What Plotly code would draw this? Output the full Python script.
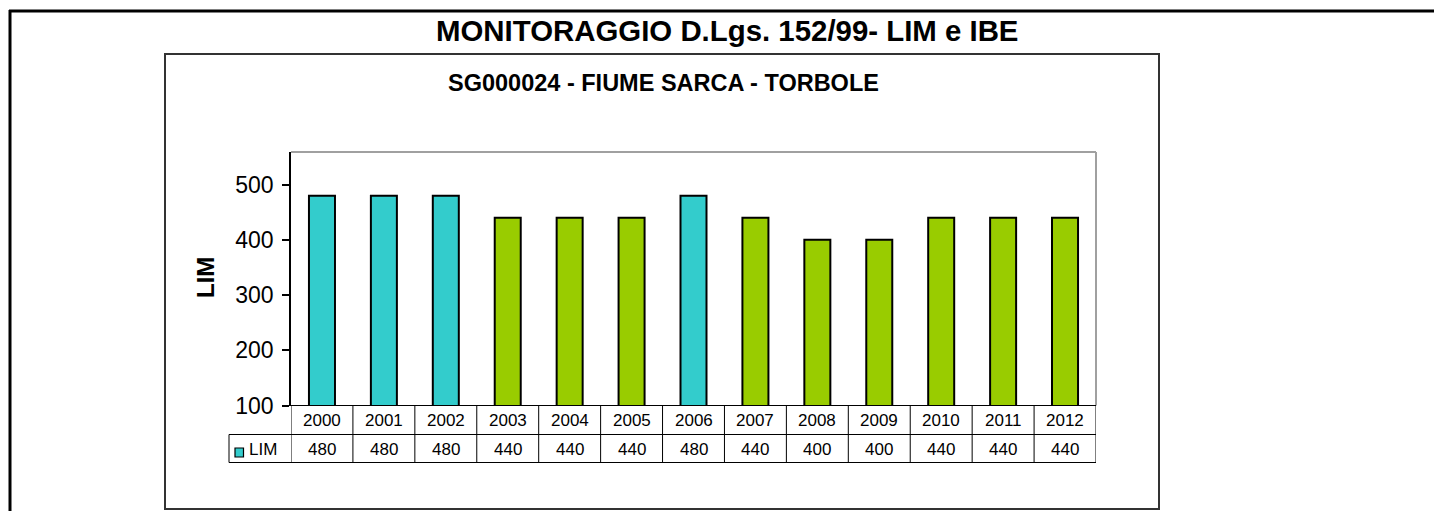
import plotly.graph_objects as go

# LIM scores per monitoring year
years = ["2000", "2001", "2002", "2003", "2004", "2005", "2006",
         "2007", "2008", "2009", "2010", "2011", "2012"]
lim = [480, 480, 480, 440, 440, 440, 480, 440, 400, 400, 440, 440, 440]
y_ticks = [100, 200, 300, 400, 500]

TEAL = "#33CCCC"
GREEN = "#99CC00"
# LIM level 1 (480-560) in teal, level 2 in green
colors = [TEAL if v >= 480 else GREEN for v in lim]

W, H = 1434, 511
FONT = "Liberation Sans, Arial, sans-serif"
TABLE_SIZE = 17


def px(x):
    return x / W


def py(y):
    return 1 - y / H


# plot area in pixels
X0, X1 = 291, 1096
Y0, Y1 = 152, 405.5
ROW1, ROW2 = 434.5, 462.5
LEG_X = 229

fig = go.Figure()
fig.add_trace(go.Bar(
    x=years, y=lim,
    marker=dict(color=colors, line=dict(color="black", width=2)),
    width=0.42,
    showlegend=False,
    hoverinfo="x+y",
))

shapes = []
# outer frame (left and top edges)
shapes.append(dict(type="line", xref="paper", yref="paper",
                   x0=px(10), x1=px(10), y0=py(10), y1=py(H + 5),
                   line=dict(color="black", width=3)))
shapes.append(dict(type="line", xref="paper", yref="paper",
                   x0=px(9), x1=px(W + 5), y0=py(11), y1=py(11),
                   line=dict(color="black", width=3)))
# chart box
shapes.append(dict(type="rect", xref="paper", yref="paper",
                   x0=px(165), x1=px(1159), y0=py(54), y1=py(509),
                   line=dict(color="#333333", width=2)))
# plot area border (top and right)
shapes.append(dict(type="line", xref="paper", yref="paper",
                   x0=px(X0), x1=px(X1), y0=py(Y0), y1=py(Y0),
                   line=dict(color="#A0A0A0", width=2)))
shapes.append(dict(type="line", xref="paper", yref="paper",
                   x0=px(X1), x1=px(X1), y0=py(Y0), y1=py(Y1),
                   line=dict(color="#A0A0A0", width=2)))

# data table grid
tl = dict(color="black", width=1)
shapes.append(dict(type="line", xref="paper", yref="paper",
                   x0=px(X0), x1=px(X1), y0=py(Y1), y1=py(Y1), line=tl))
for yy in (ROW1, ROW2):
    shapes.append(dict(type="line", xref="paper", yref="paper",
                       x0=px(LEG_X), x1=px(X1), y0=py(yy), y1=py(yy), line=tl))
shapes.append(dict(type="line", xref="paper", yref="paper",
                   x0=px(LEG_X), x1=px(LEG_X), y0=py(ROW1), y1=py(ROW2), line=tl))
for i in range(len(years) + 1):
    shapes.append(dict(type="line", xref="x", yref="paper",
                       x0=i - 0.5, x1=i - 0.5, y0=py(Y1), y1=py(ROW2), line=tl))
# legend key
shapes.append(dict(type="rect", xref="paper", yref="paper",
                   x0=px(235), x1=px(243.5), y0=py(448), y1=py(457),
                   fillcolor=TEAL, line=dict(color="black", width=1.2)))

annotations = []
for i, (yr, v) in enumerate(zip(years, lim)):
    annotations.append(dict(x=i, xref="x", y=py((Y1 + ROW1) / 2 + 0.5), yref="paper",
                            text=yr, showarrow=False, xanchor="center", yanchor="middle",
                            font=dict(family=FONT, size=TABLE_SIZE, color="black")))
    annotations.append(dict(x=i, xref="x", y=py((ROW1 + ROW2) / 2 + 0.5), yref="paper",
                            text=str(v), showarrow=False, xanchor="center", yanchor="middle",
                            font=dict(family=FONT, size=TABLE_SIZE, color="black")))
annotations.append(dict(x=px(246.5), xref="paper", y=py((ROW1 + ROW2) / 2 + 0.5), yref="paper",
                        text="LIM", showarrow=False, xanchor="left", yanchor="middle",
                        font=dict(family=FONT, size=TABLE_SIZE, color="black")))
# titles
annotations.append(dict(x=px(727), xref="paper", y=py(30), yref="paper",
                        text="<b>MONITORAGGIO D.Lgs. 152/99- LIM e IBE</b>",
                        showarrow=False, xanchor="center", yanchor="middle",
                        font=dict(family=FONT, size=29.4, color="black")))
annotations.append(dict(x=px(663), xref="paper", y=py(83), yref="paper",
                        text="<b>SG000024 - FIUME SARCA - TORBOLE</b>",
                        showarrow=False, xanchor="center", yanchor="middle",
                        font=dict(family=FONT, size=23.5, color="black")))
annotations.append(dict(x=px(205), xref="paper", y=py(278), yref="paper",
                        text="<b>LIM</b>", textangle=-90,
                        showarrow=False, xanchor="center", yanchor="middle",
                        font=dict(family=FONT, size=24, color="black")))

fig.update_layout(
    template="none",
    autosize=False,
    width=W, height=H,
    margin=dict(l=0, r=0, t=0, b=0, pad=0),
    paper_bgcolor="white", plot_bgcolor="white",
    xaxis=dict(domain=[px(X0), px(X1)], showticklabels=False, ticks="",
               showline=False, showgrid=False, zeroline=False,
               type="category",
               range=[-0.5, len(years) - 0.5], fixedrange=True),
    yaxis=dict(domain=[py(Y1), py(Y0)], range=[100, 559],
               tickvals=y_ticks, ticks="outside", ticklen=7, tickwidth=1.5,
               tickcolor="black", showline=True, linecolor="black", linewidth=1.5,
               showgrid=False, zeroline=False, ticklabelstandoff=4,
               tickfont=dict(family=FONT, size=23, color="black"), fixedrange=True),
    shapes=shapes,
    annotations=annotations,
    bargap=0.58,
)

fig.write_html("out.html", config={"responsive": False, "displayModeBar": False})
